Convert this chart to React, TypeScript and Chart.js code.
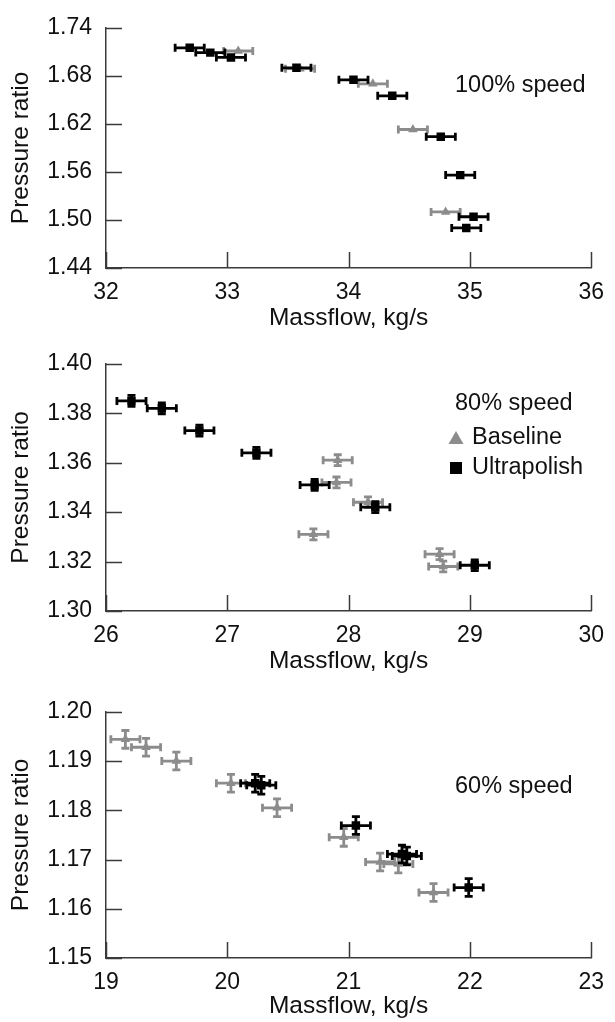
import { useEffect, useRef } from "react";
import { Chart, registerables } from "chart.js";

Chart.register(...registerables);

// ---------- DATA ----------
// 100% speed
const p100BaselineMass = [33.09, 33.6, 34.2, 34.53, 34.8];
const p100BaselinePR = [1.711, 1.689, 1.67, 1.613, 1.51];
const p100UltraMass = [32.69, 32.86, 33.03, 33.57, 34.04, 34.36, 34.76, 34.92, 35.03, 34.97];
const p100UltraPR = [1.715, 1.709, 1.703, 1.69, 1.675, 1.655, 1.604, 1.556, 1.504, 1.49];
const p100MassErr = 0.12;
const p100PRErr = 0;
const p100XTicks = [32, 33, 34, 35, 36];
const p100YTicks = [1.44, 1.5, 1.56, 1.62, 1.68, 1.74];

// 80% speed
const p80BaselineMass = [27.91, 27.9, 28.16, 27.71, 28.75, 28.78];
const p80BaselinePR = [1.361, 1.352, 1.344, 1.331, 1.323, 1.318];
const p80UltraMass = [26.21, 26.46, 26.77, 27.24, 27.72, 28.22, 29.04];
const p80UltraPR = [1.385, 1.382, 1.373, 1.364, 1.351, 1.342, 1.3185];
const p80MassErr = 0.12;
const p80PRErr = 0.0022;
const p80XTicks = [26, 27, 28, 29, 30];
const p80YTicks = [1.3, 1.32, 1.34, 1.36, 1.38, 1.4];

// 60% speed
const p60BaselineMass = [19.16, 19.33, 19.58, 20.03, 20.41, 20.96, 21.26, 21.41, 21.7];
const p60BaselinePR = [1.1944, 1.1928, 1.19, 1.1855, 1.1805, 1.1745, 1.1695, 1.1691, 1.1633];
const p60UltraMass = [20.23, 20.28, 21.06, 21.44, 21.48, 21.99];
const p60UltraPR = [1.1855, 1.1851, 1.1769, 1.1711, 1.1707, 1.1643];
const p60MassErr = 0.12;
const p60PRErr = 0.0018;
const p60XTicks = [19, 20, 21, 22, 23];
const p60YTicks = [1.15, 1.16, 1.17, 1.18, 1.19, 1.2];

const seriesNames = ["Baseline", "Ultrapolish"];
const speedLabels = ["100% speed", "80% speed", "60% speed"];
const xTitle = "Massflow, kg/s";
const yTitle = "Pressure ratio";

// ---------- STYLE ----------
const FONT = '"Liberation Sans", Arial, Helvetica, sans-serif';
const GRAY = "#8c8c8c";
const BLACK = "#000000";
const AXIS = "#3a3a3a";
const TEXT = "#111111";

type PanelCfg = {
  top: number;
  height: number;
  chartTop: number;
  chartBottom: number;
  baseMass: number[];
  basePR: number[];
  ultraMass: number[];
  ultraPR: number[];
  massErr: number;
  prErr: number;
  xTicks: number[];
  yTicks: number[];
  label: string;
  labelY: number;
  showLegend: boolean;
};

const CHART_LEFT = 106;
const CHART_RIGHT = 597;
const W = 615;

const errorBarPlugin = {
  id: "errorBars",
  beforeDatasetDraw(chart: any, args: any) {
    const ds = chart.data.datasets[args.index];
    const xs = chart.scales.x;
    const ys = chart.scales.y;
    const ctx = chart.ctx;
    ctx.save();
    ctx.strokeStyle = ds.borderColor;
    ctx.lineWidth = 2.8;
    ctx.lineCap = "butt";
    const cap = 4;
    for (const p of ds.data) {
      const px = xs.getPixelForValue(p.x);
      const py = ys.getPixelForValue(p.y);
      if (ds.xErr) {
        const x0 = xs.getPixelForValue(p.x - ds.xErr);
        const x1 = xs.getPixelForValue(p.x + ds.xErr);
        ctx.beginPath();
        ctx.moveTo(x0, py);
        ctx.lineTo(x1, py);
        ctx.moveTo(x0, py - cap);
        ctx.lineTo(x0, py + cap);
        ctx.moveTo(x1, py - cap);
        ctx.lineTo(x1, py + cap);
        ctx.stroke();
      }
      if (ds.yErr) {
        const y0 = ys.getPixelForValue(p.y - ds.yErr);
        const y1 = ys.getPixelForValue(p.y + ds.yErr);
        ctx.beginPath();
        ctx.moveTo(px, y0);
        ctx.lineTo(px, y1);
        ctx.moveTo(px - cap, y0);
        ctx.lineTo(px + cap, y0);
        ctx.moveTo(px - cap, y1);
        ctx.lineTo(px + cap, y1);
        ctx.stroke();
      }
    }
    ctx.restore();
  },
};

const innerTickPlugin = {
  id: "innerTicks",
  afterDraw(chart: any) {
    const { ctx, chartArea } = chart;
    const xs = chart.scales.x;
    const ys = chart.scales.y;
    ctx.save();
    ctx.strokeStyle = AXIS;
    ctx.lineWidth = 1.5;
    ctx.beginPath();
    for (const t of xs.ticks) {
      const x = Math.round(xs.getPixelForValue(t.value)) + 0.5;
      ctx.moveTo(x, chartArea.bottom);
      ctx.lineTo(x, chartArea.bottom - 16);
    }
    for (const t of ys.ticks) {
      const y = Math.round(ys.getPixelForValue(t.value)) + 0.5;
      ctx.moveTo(chartArea.left, y);
      ctx.lineTo(chartArea.left + 16, y);
    }
    ctx.stroke();
    ctx.restore();
  },
};

function makeAnnotationPlugin(cfg: PanelCfg) {
  return {
    id: "annot",
    afterDraw(chart: any) {
      const ctx = chart.ctx;
      ctx.save();
      ctx.fillStyle = TEXT;
      ctx.font = `23.5px ${FONT}`;
      ctx.textBaseline = "middle";
      ctx.textAlign = "left";
      ctx.fillText(cfg.label, 455, cfg.labelY - cfg.top);
      if (cfg.showLegend) {
        const y1 = 438 - cfg.top;
        const y2 = 468 - cfg.top;
        ctx.fillStyle = GRAY;
        ctx.beginPath();
        ctx.moveTo(456, y1 - 7);
        ctx.lineTo(463.5, y1 + 6);
        ctx.lineTo(448.5, y1 + 6);
        ctx.closePath();
        ctx.fill();
        ctx.fillStyle = BLACK;
        ctx.fillRect(450, y2 - 6, 12, 12);
        ctx.fillStyle = TEXT;
        ctx.fillText(seriesNames[0], 472, y1);
        ctx.fillText(seriesNames[1], 472, y2);
      }
      ctx.restore();
    },
  };
}

function Panel({ cfg }: { cfg: PanelCfg }) {
  const ref = useRef<HTMLCanvasElement | null>(null);
  useEffect(() => {
    if (!ref.current) return;
    const xs = cfg.xTicks;
    const ys = cfg.yTicks;
    const chart = new Chart(ref.current, {
      type: "scatter",
      data: {
        datasets: [
          {
            label: seriesNames[1],
            data: cfg.ultraMass.map((m, i) => ({ x: m, y: cfg.ultraPR[i] })),
            backgroundColor: BLACK,
            borderColor: BLACK,
            pointStyle: "rect",
            pointRadius: 6,
            pointBorderWidth: 0,
            xErr: cfg.massErr,
            yErr: cfg.prErr,
          } as any,
          {
            label: seriesNames[0],
            data: cfg.baseMass.map((m, i) => ({ x: m, y: cfg.basePR[i] })),
            backgroundColor: GRAY,
            borderColor: GRAY,
            pointStyle: "triangle",
            pointRadius: 5.5,
            pointBorderWidth: 0,
            xErr: cfg.massErr,
            yErr: cfg.prErr,
          } as any,
        ],
      },
      options: {
        animation: false,
        responsive: false,
        maintainAspectRatio: false,
        devicePixelRatio: 1,
        layout: {
          padding: {
            top: cfg.chartTop - cfg.top,
            right: W - CHART_RIGHT,
            left: 0,
            bottom: 0,
          },
        },
        plugins: {
          legend: { display: false },
          tooltip: { enabled: false },
        },
        scales: {
          x: {
            type: "linear",
            min: xs[0],
            max: xs[xs.length - 1],
            afterBuildTicks: (s: any) => {
              s.ticks = xs.map((v) => ({ value: v }));
            },
            afterFit: (s: any) => {
              s.height = cfg.height - (cfg.chartBottom - cfg.top);
            },
            grid: { display: false, drawOnChartArea: false, drawTicks: false },
            border: { display: true, color: AXIS, width: 1.5 },
            ticks: {
              padding: 11,
              color: TEXT,
              font: { family: FONT, size: 23 },
              maxRotation: 0,
              callback: (v: any) => String(v),
            },
            title: {
              display: true,
              text: xTitle,
              color: TEXT,
              font: { family: FONT, size: 24.5 },
              padding: { top: 0, bottom: 1 },
            },
          },
          y: {
            type: "linear",
            min: ys[0],
            max: ys[ys.length - 1],
            afterBuildTicks: (s: any) => {
              s.ticks = ys.map((v) => ({ value: v }));
            },
            afterFit: (s: any) => {
              s.width = CHART_LEFT;
            },
            grid: { display: false, drawOnChartArea: false, drawTicks: false },
            border: { display: true, color: AXIS, width: 1.5 },
            ticks: {
              padding: 14,
              color: TEXT,
              font: { family: FONT, size: 23 },
              callback: (v: any) => Number(v).toFixed(2),
            },
            title: {
              display: true,
              text: yTitle,
              color: TEXT,
              font: { family: FONT, size: 24.5 },
              padding: { top: 7, bottom: 0 },
            },
          },
        },
      },
      plugins: [errorBarPlugin, innerTickPlugin, makeAnnotationPlugin(cfg)],
    });
    return () => chart.destroy();
  }, [cfg]);
  return (
    <canvas
      ref={ref}
      width={W}
      height={cfg.height}
      style={{
        position: "absolute",
        left: 0,
        top: cfg.top,
        width: W,
        height: cfg.height,
        display: "block",
      }}
    />
  );
}

const panels: PanelCfg[] = [
  {
    top: 0,
    height: 334,
    chartTop: 19,
    chartBottom: 268,
    baseMass: p100BaselineMass,
    basePR: p100BaselinePR,
    ultraMass: p100UltraMass,
    ultraPR: p100UltraPR,
    massErr: p100MassErr,
    prErr: p100PRErr,
    xTicks: p100XTicks,
    yTicks: p100YTicks,
    label: speedLabels[0],
    labelY: 86,
    showLegend: false,
  },
  {
    top: 336,
    height: 341,
    chartTop: 363,
    chartBottom: 611,
    baseMass: p80BaselineMass,
    basePR: p80BaselinePR,
    ultraMass: p80UltraMass,
    ultraPR: p80UltraPR,
    massErr: p80MassErr,
    prErr: p80PRErr,
    xTicks: p80XTicks,
    yTicks: p80YTicks,
    label: speedLabels[1],
    labelY: 404,
    showLegend: true,
  },
  {
    top: 684,
    height: 338,
    chartTop: 709,
    chartBottom: 958,
    baseMass: p60BaselineMass,
    basePR: p60BaselinePR,
    ultraMass: p60UltraMass,
    ultraPR: p60UltraPR,
    massErr: p60MassErr,
    prErr: p60PRErr,
    xTicks: p60XTicks,
    yTicks: p60YTicks,
    label: speedLabels[2],
    labelY: 787,
    showLegend: false,
  },
];

export default function App() {
  return (
    <div
      style={{
        position: "absolute",
        left: 0,
        top: 0,
        width: W,
        height: 1022,
        background: "#ffffff",
        overflow: "hidden",
      }}
    >
      {panels.map((p, i) => (
        <Panel key={i} cfg={p} />
      ))}
    </div>
  );
}
